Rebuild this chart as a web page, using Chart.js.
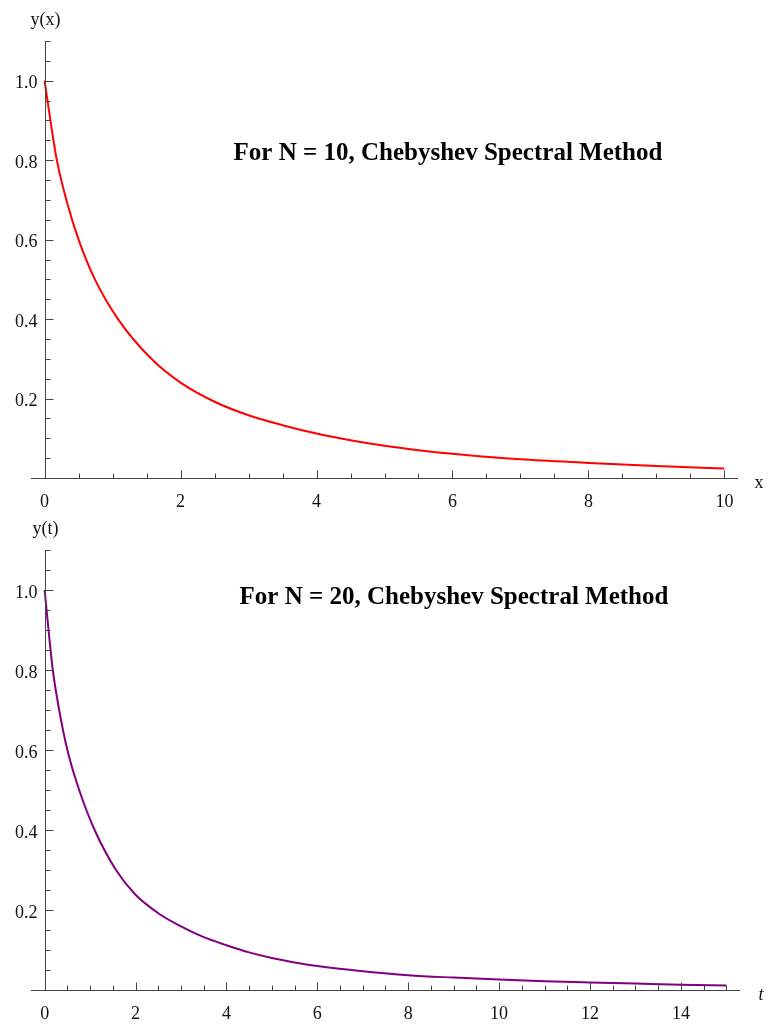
<!DOCTYPE html>
<html>
<head>
<meta charset="utf-8">
<script src="https://cdn.jsdelivr.net/npm/chart.js@4/dist/chart.umd.min.js"></script>
<style>
  body { margin: 0; background: #fff; }
  .wrap { position: absolute; left: 0; width: 769px; }
  canvas { display: block; }
</style>
</head>
<body>
<div class="wrap" style="top:0"><canvas id="chart1" width="769" height="510"></canvas></div>
<div class="wrap" style="top:510px"><canvas id="chart2" width="769" height="516"></canvas></div>
<script>
/* =========================
   DADOS
========================= */
// N = 10, y(x)
const xValues1 = [0, 0.09, 0.18, 0.32, 0.5, 0.74, 1.08, 1.57, 2, 2.5, 3, 3.5, 4, 4.5, 5, 5.5, 6, 7, 8, 9, 10];
const yValues1 = [1.0, 0.895, 0.8, 0.7, 0.6, 0.5, 0.4, 0.3, 0.240, 0.192, 0.158, 0.133, 0.112, 0.095, 0.081, 0.070, 0.061, 0.047, 0.038, 0.030, 0.024];

// N = 20, y(t)
const tValues2 = [0, 0.09, 0.18, 0.32, 0.5, 0.76, 1.1, 1.57, 2, 2.5, 3, 3.5, 4, 4.5, 5, 5.5, 6, 7, 8, 9, 10, 11, 12, 13, 14, 15];
const yValues2 = [1.0, 0.895, 0.8, 0.7, 0.6, 0.5, 0.4, 0.3, 0.238, 0.192, 0.159, 0.132, 0.112, 0.094, 0.080, 0.069, 0.060, 0.047, 0.037, 0.031, 0.026, 0.022, 0.019, 0.016, 0.013, 0.011];

// rótulos dos eixos
const xTickLabels1 = [0, 2, 4, 6, 8, 10];
const tTickLabels2 = [0, 2, 4, 6, 8, 10, 12, 14];
const yTickLabels = [0.2, 0.4, 0.6, 0.8, 1.0];

/* =========================
   EIXOS ESTILO MATHEMATICA
========================= */
const eixos = {
  id: "eixos",
  afterDraw(chart, args, opts) {
    const ctx = chart.ctx;
    const sx = chart.scales.x;
    const sy = chart.scales.y;
    const x0 = Math.round(sx.getPixelForValue(0)) + 0.5;
    const y0 = Math.round(sy.getPixelForValue(0)) + 0.5;

    ctx.save();
    ctx.strokeStyle = "#444";
    ctx.lineWidth = 1;

    // linhas dos eixos
    ctx.beginPath();
    ctx.moveTo(sx.left, y0);
    ctx.lineTo(sx.right, y0);
    ctx.moveTo(x0, y0);
    ctx.lineTo(x0, sy.top);

    // marcas no eixo x (a cada 0.5)
    for (let i = 0; i <= opts.xEnd * 2; i++) {
      const px = Math.round(sx.getPixelForValue(i / 2)) + 0.5;
      const len = i % 4 === 0 ? 8 : 5;
      ctx.moveTo(px, y0);
      ctx.lineTo(px, y0 - len);
    }

    // marcas no eixo y (a cada 0.05)
    for (let i = 1; i <= 22; i++) {
      const py = Math.round(sy.getPixelForValue(i * 0.05)) + 0.5;
      const len = i % 4 === 0 ? 8 : 5;
      ctx.moveTo(x0, py);
      ctx.lineTo(x0 + len, py);
    }
    ctx.stroke();

    // números
    ctx.fillStyle = "#111";
    ctx.font = "18px 'Liberation Serif'";
    ctx.textBaseline = "alphabetic";
    ctx.textAlign = "center";
    opts.xLabels.forEach(v => {
      ctx.fillText(String(v), sx.getPixelForValue(v), y0 + 28);
    });
    ctx.textAlign = "right";
    yTickLabels.forEach(v => {
      ctx.fillText(v.toFixed(1), x0 - 8, sy.getPixelForValue(v) + 7.5);
    });

    // nomes dos eixos
    ctx.textAlign = "center";
    ctx.fillText(opts.yName, x0, sy.top - 16);
    ctx.font = (opts.xItalic ? "italic " : "") + "18px 'Liberation Serif'";
    ctx.fillText(opts.xName, sx.right + 21, y0 + 9.5);

    // título dentro do gráfico
    ctx.font = "bold 25px 'Liberation Serif'";
    ctx.fillStyle = "#000";
    ctx.fillText(opts.title, opts.titleX, opts.titleY);

    ctx.restore();
  }
};

function montarGrafico(id, xs, ys, cor, xMin, xMax, pad, extra) {
  const pontos = xs.map((v, i) => ({ x: v, y: ys[i] }));
  return new Chart(document.getElementById(id), {
    type: "line",
    data: {
      datasets: [{
        data: pontos,
        borderColor: cor,
        borderWidth: 2,
        pointRadius: 0,
        fill: false,
        cubicInterpolationMode: "monotone"
      }]
    },
    options: {
      responsive: false,
      animation: false,
      layout: { padding: pad },
      scales: {
        x: { type: "linear", min: xMin, max: xMax, display: false },
        y: { type: "linear", min: 0, max: 1.1, display: false }
      },
      plugins: {
        legend: { display: false },
        tooltip: { enabled: false },
        eixos: extra
      }
    },
    plugins: [eixos]
  });
}

montarGrafico("chart1", xValues1, yValues1, "#ff0000", -0.2, 10.2,
  { left: 31, right: 31, top: 41, bottom: 32 },
  {
    xEnd: 10, xLabels: xTickLabels1, yName: "y(x)", xName: "x", xItalic: false,
    title: "For N = 10, Chebyshev Spectral Method", titleX: 448, titleY: 160
  });

montarGrafico("chart2", tValues2, yValues2, "#800080", -0.3, 15.3,
  { left: 31, right: 29, top: 40, bottom: 36 },
  {
    xEnd: 15, xLabels: tTickLabels2, yName: "y(t)", xName: "t", xItalic: true,
    title: "For N = 20, Chebyshev Spectral Method", titleX: 454, titleY: 94
  });
</script>
</body>
</html>
